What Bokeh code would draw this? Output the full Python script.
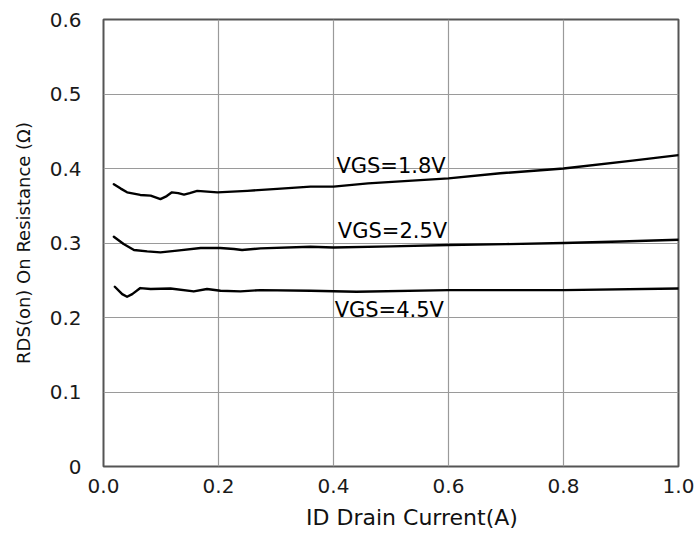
from bokeh.plotting import figure
from bokeh.models import FixedTicker, Range1d
from bokeh.core.properties import value
from bokeh.embed import file_html
from bokeh.resources import INLINE

# ---- data ----
x_ticks = [0.0, 0.2, 0.4, 0.6, 0.8, 1.0]
x_tick_labels = ["0.0", "0.2", "0.4", "0.6", "0.8", "1.0"]
y_ticks = [0.0, 0.1, 0.2, 0.3, 0.4, 0.5, 0.6]
y_tick_labels = ["0", "0.1", "0.2", "0.3", "0.4", "0.5", "0.6"]

v18_x = [0.018, 0.030, 0.041, 0.064, 0.082, 0.099, 0.110, 0.119, 0.130, 0.140, 0.150, 0.163, 0.198, 0.25, 0.302, 0.36, 0.40, 0.46, 0.60, 0.69, 0.80, 0.92, 1.0]
v18_y = [0.379, 0.373, 0.368, 0.3645, 0.3636, 0.359, 0.363, 0.368, 0.367, 0.365, 0.367, 0.370, 0.368, 0.370, 0.3726, 0.3757, 0.3757, 0.380, 0.3868, 0.3936, 0.400, 0.4106, 0.418]

v25_x = [0.018, 0.035, 0.053, 0.076, 0.099, 0.128, 0.169, 0.203, 0.227, 0.241, 0.273, 0.36, 0.40, 0.50, 0.60, 0.70, 0.80, 0.90, 1.0]
v25_y = [0.3085, 0.2986, 0.2906, 0.2887, 0.2874, 0.2897, 0.2933, 0.2933, 0.292, 0.2906, 0.2928, 0.295, 0.294, 0.2955, 0.2973, 0.2985, 0.300, 0.302, 0.3044]

v45_x = [0.0197, 0.0325, 0.041, 0.050, 0.064, 0.082, 0.1165, 0.157, 0.180, 0.2035, 0.238, 0.273, 0.36, 0.44, 0.60, 0.80, 1.0]
v45_y = [0.2413, 0.2314, 0.2278, 0.2314, 0.2395, 0.2382, 0.239, 0.235, 0.2382, 0.2359, 0.235, 0.2368, 0.2359, 0.2345, 0.2368, 0.2368, 0.239]

series_names = ["VGS=1.8V", "VGS=2.5V", "VGS=4.5V"]
series_x = [v18_x, v25_x, v45_x]
series_y = [v18_y, v25_y, v45_y]
label_x = [0.405, 0.4075, 0.402]
label_y = [0.403, 0.3159, 0.2103]

x_title = "ID Drain Current(A)"
y_title = "RDS(on) On Resistance (\u03a9)"

FONT = "DejaVu Sans"

p = figure(width=694, height=533, output_backend="svg", toolbar_location=None,
           x_range=Range1d(0, 1.0), y_range=Range1d(0, 0.6),
           min_border_left=103, min_border_right=16, min_border_top=19, min_border_bottom=67)
p.background_fill_color = "white"
p.border_fill_color = "white"
p.outline_line_color = "#555555"
p.outline_line_width = 2

for ax in (p.xaxis[0], p.yaxis[0]):
    ax.axis_line_color = None
    ax.major_tick_line_color = None
    ax.minor_tick_line_color = None
    ax.major_tick_in = 0
    ax.major_tick_out = 0
    ax.major_label_text_font = FONT
    ax.major_label_text_font_size = "20px"
    ax.major_label_text_color = "#1a1a1a"
    ax.axis_label_text_font = FONT
    ax.axis_label_text_font_style = "normal"
    ax.axis_label_text_color = "#111111"

p.xaxis.ticker = FixedTicker(ticks=x_ticks)
p.xaxis.major_label_overrides = {t: s for t, s in zip(x_ticks, x_tick_labels)}
p.xaxis.major_label_standoff = 12
p.xaxis.axis_label = "\u00a0" * 6 + x_title
p.xaxis.axis_label_text_font_size = "22px"
p.xaxis.axis_label_standoff = 9

p.yaxis.ticker = FixedTicker(ticks=y_ticks)
p.yaxis.major_label_overrides = {t: s for t, s in zip(y_ticks, y_tick_labels)}
p.yaxis.major_label_standoff = 22
p.yaxis.axis_label = y_title
p.yaxis.axis_label_text_font_size = "18px"
p.yaxis.axis_label_standoff = 13

p.xgrid.ticker = FixedTicker(ticks=x_ticks)
p.ygrid.ticker = FixedTicker(ticks=y_ticks)
for g in (p.xgrid[0], p.ygrid[0]):
    g.grid_line_color = "#9a9a9a"
    g.grid_line_width = 1.2

for xs, ys in zip(series_x, series_y):
    p.line(xs, ys, line_color="black", line_width=2.4, line_join="round", line_cap="round")

p.text(x=label_x, y=label_y, text=series_names, text_font=value(FONT),
       text_font_size="21px", text_align="left", text_baseline="middle", text_color="black")

open("out.html", "w").write(file_html(p, INLINE))
